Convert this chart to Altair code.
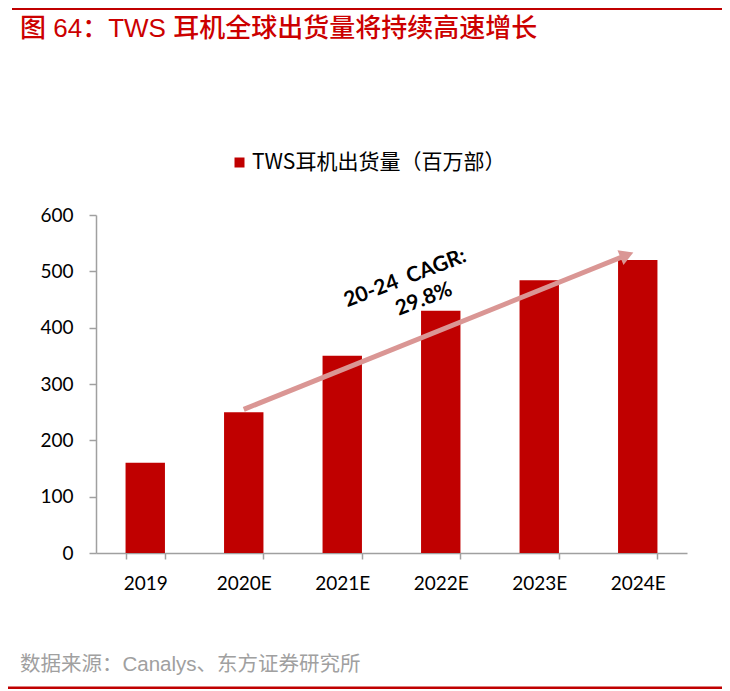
import altair as alt
import pandas as pd

RED = "#C00000"
PINK = "#DA9694"
NUM_FONT = "Lato"
CJK_FONT = "Liberation Sans, Noto Sans CJK SC"

YEARS = ["2019", "2020E", "2021E", "2022E", "2023E", "2024E"]
SHIPMENTS = [160, 250, 350, 430, 484, 520]
SERIES = "TWS耳机出货量（百万部）"
TITLE = "图 64：TWS 耳机全球出货量将持续高速增长"
SOURCE = "数据来源：Canalys、东方证券研究所"

# CAGR arrow, on a 0..6 slot scale (slot i centre = i + 0.5): 2020E -> 2024E
ARROW_X = [1.5, 5.39]
ARROW_Y = [255, 529]
CAGR_TEXT = ["20-24\u00a0 CAGR:", "29.8%"]
CAGR_X = [3.14, 3.33]
CAGR_Y = [487, 450]

W, H = 591, 338

bars_df = pd.DataFrame({"year": YEARS, "value": SHIPMENTS, "series": SERIES})
arrow_df = pd.DataFrame({"x": ARROW_X, "y": ARROW_Y})
cagr_df = pd.DataFrame({"x": CAGR_X, "y": CAGR_Y, "t": CAGR_TEXT})

y_enc = alt.Y(
    "value:Q",
    title=None,
    scale=alt.Scale(domain=[0, 600], nice=False),
    axis=alt.Axis(
        values=[0, 100, 200, 300, 400, 500, 600],
        grid=False,
        labelFont=NUM_FONT,
        labelFontSize=19,
        labelColor="black",
        domainColor="#A0A0A0",
        domainWidth=1.5,
        tickColor="#A0A0A0",
        tickWidth=1.5,
        tickSize=7,
        labelPadding=16,
    ),
)

bars = (
    alt.Chart(bars_df)
    .mark_bar()
    .encode(
        x=alt.X(
            "year:N",
            title=None,
            sort=YEARS,
            scale=alt.Scale(paddingInner=0.6, paddingOuter=0.3),
            axis=alt.Axis(
                labelAngle=0,
                labelFont=NUM_FONT,
                labelFontSize=19,
                labelColor="black",
                domainColor="#A0A0A0",
                domainWidth=1.5,
                tickColor="#A0A0A0",
                tickWidth=1.5,
                tickSize=6,
                tickBand="extent",
                labelPadding=15,
            ),
        ),
        y=y_enc,
        color=alt.Color(
            "series:N",
            scale=alt.Scale(range=[RED]),
            legend=alt.Legend(
                title=None,
                orient="none",
                legendX=133,
                legendY=-63,
                symbolType="square",
                symbolSize=100,
                symbolStrokeWidth=0,
                labelFont="Noto Sans CJK SC",
                labelFontSize=21,
                labelColor="black",
                labelOffset=2,
                labelLimit=0,
            ),
        ),
    )
)

slot_x = alt.X("x:Q", scale=alt.Scale(domain=[0, 6], nice=False, zero=False), axis=None)

arrow_line = (
    alt.Chart(arrow_df)
    .mark_line(color=PINK, strokeWidth=5)
    .encode(x=slot_x, y=alt.Y("y:Q"))
)

arrow_head = (
    alt.Chart(arrow_df.tail(1))
    .mark_point(shape="triangle-up", size=256, filled=True, color=PINK, opacity=1, angle=68)
    .encode(x=slot_x, y=alt.Y("y:Q"))
)

cagr = (
    alt.Chart(cagr_df)
    .mark_text(font=NUM_FONT, fontWeight="bold", fontSize=21, angle=339, color="black")
    .encode(x=slot_x, y=alt.Y("y:Q"), text="t:N")
)

title = (
    alt.Chart(pd.DataFrame({"t": [TITLE]}))
    .mark_text(align="left", baseline="alphabetic", font=CJK_FONT, fontSize=26,
               fontWeight=500, color="#CC0000")
    .encode(x=alt.value(-76), y=alt.value(-178), text="t:N")
)

source = (
    alt.Chart(pd.DataFrame({"t": [SOURCE]}))
    .mark_text(align="left", baseline="middle", font=CJK_FONT, fontSize=20.5, color="#A0A0A0")
    .encode(x=alt.value(-76), y=alt.value(450), text="t:N")
)

top_rule = (
    alt.Chart(pd.DataFrame({"k": [0]}))
    .mark_rule(color=RED, strokeWidth=2)
    .encode(x=alt.value(-84), x2=alt.value(626), y=alt.value(-206))
)

bottom_rule = (
    alt.Chart(pd.DataFrame({"k": [0]}))
    .mark_rule(color=RED, strokeWidth=3)
    .encode(x=alt.value(-88), x2=alt.value(626), y=alt.value(473))
)

chart = (
    alt.layer(bars, arrow_line, arrow_head, cagr, title, source, top_rule, bottom_rule)
    .resolve_scale(x="independent")
    .properties(
        width=W,
        height=H,
        autosize=alt.AutoSizeParams(type="none"),
        padding={"left": 88, "top": 207, "right": 35, "bottom": 136},
    )
    .configure_view(stroke=None)
)

chart.save("out.html", embed_options={"renderer": "svg", "actions": False})
